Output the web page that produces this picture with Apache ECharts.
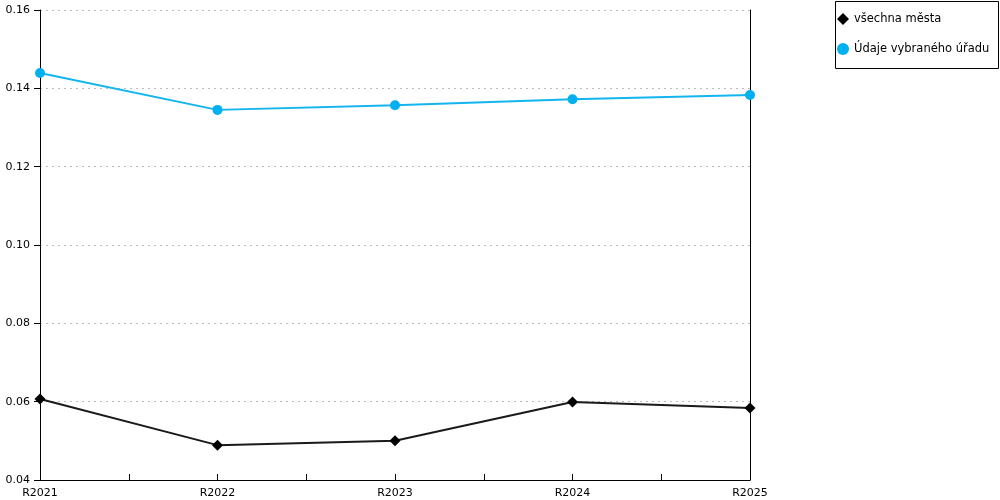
<!DOCTYPE html>
<html>
<head>
<meta charset="utf-8">
<script src="https://cdn.jsdelivr.net/npm/echarts@6/dist/echarts.min.js"></script>
<style>
html,body{margin:0;padding:0;background:#fff;}
#chart{width:1000px;height:500px;}
</style>
</head>
<body>
<div id="chart"></div>
<script>
var years = ['R2021','R2022','R2023','R2024','R2025'];
var vsechnaMesta = [0.0607, 0.0489, 0.0500, 0.0599, 0.0584];
var vybranyUrad = [0.1439, 0.1345, 0.1357, 0.1372, 0.1383];

function pairs(arr){
  var out = [];
  for (var i = 0; i < arr.length; i++){
    out.push([i, arr[i]]);
  }
  return out;
}

var chart = echarts.init(document.getElementById('chart'));
chart.setOption({
  animation:false,
  textStyle:{fontFamily:'DejaVu Sans'},
  grid:{left:40, right:250, top:10, bottom:20},
  // legend frame drawn separately so it has the fixed size of the original
  graphic:[{
    type:'rect', left:835, top:1,
    shape:{width:163, height:67},
    style:{fill:'#fff', stroke:'#000', lineWidth:1},
    z:0
  }],
  legend:{
    orient:'vertical',
    left:835, top:0,
    padding:[13, 4, 4, 2],
    itemGap:18,
    itemWidth:12, itemHeight:12,
    textStyle:{fontSize:11.5, color:'#000', fontFamily:'DejaVu Sans'},
    z:5,
    data:[
      {name:'všechna města', icon:'diamond'},
      {name:'Údaje vybraného úřadu', icon:'circle'}
    ]
  },
  xAxis:{
    type:'value',
    min:0, max:years.length - 1, interval:1,
    axisLine:{lineStyle:{color:'#000', width:1}},
    axisTick:{inside:true, length:6, lineStyle:{color:'#000'}},
    minorTick:{show:true, splitNumber:2, length:6, lineStyle:{color:'#000'}},
    axisLabel:{
      color:'#000', fontSize:11, margin:8,
      formatter:function(v){ return years[v] || ''; }
    },
    splitLine:{show:false}
  },
  yAxis:[
    {
      type:'value',
      min:0.04, max:0.16, interval:0.02,
      axisLine:{show:true, lineStyle:{color:'#000'}},
      axisTick:{show:true, length:6, lineStyle:{color:'#000'}},
      axisLabel:{color:'#000', fontSize:11, margin:10,
        formatter:function(v){ return v.toFixed(2); }},
      splitLine:{lineStyle:{color:'#bbb', type:[2,4]}}
    },
    {
      type:'value',
      position:'right',
      min:0.04, max:0.16, interval:0.02,
      axisLine:{show:true, lineStyle:{color:'#000'}},
      axisTick:{show:false},
      axisLabel:{show:false},
      splitLine:{show:false}
    }
  ],
  series:[
    {
      name:'všechna města',
      type:'line',
      data:pairs(vsechnaMesta),
      symbol:'diamond', symbolSize:11,
      itemStyle:{color:'#000'},
      lineStyle:{color:'#1a1a1a', width:2}
    },
    {
      name:'Údaje vybraného úřadu',
      type:'line',
      data:pairs(vybranyUrad),
      symbol:'circle', symbolSize:10,
      itemStyle:{color:'#00b0f0'},
      lineStyle:{color:'#12b5f0', width:2}
    }
  ]
});
</script>
</body>
</html>
